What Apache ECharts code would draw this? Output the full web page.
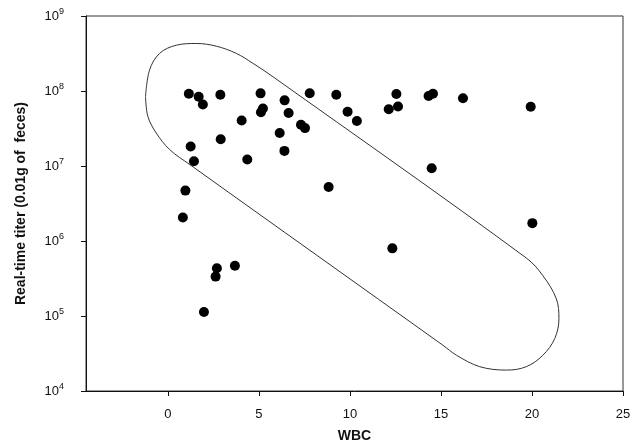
<!DOCTYPE html>
<html>
<head>
<meta charset="utf-8">
<script src="https://cdn.jsdelivr.net/npm/echarts@6/dist/echarts.min.js"></script>
<style>
html,body{margin:0;padding:0;background:#fff;}
#chart{width:644px;height:448px;}
</style>
</head>
<body>
<div id="chart"></div>
<script>
// WBC values (x) and real-time titer values (y, per 0.01 g feces)
var wbc = [1.15, 1.69, 1.92, 2.88, 4.05, 5.09, 5.22, 5.11, 6.41, 6.63, 6.14, 6.40, 7.31, 7.53,
           1.25, 1.43, 2.90, 4.36, 7.79, 9.25, 9.87, 10.38, 12.55, 12.13, 12.64, 14.32, 14.56,
           16.21, 14.49, 19.93, 0.96, 0.82, 2.69, 2.62, 3.68, 1.98, 8.83, 12.33, 20.02];
var titer = [9.2e7, 8.4e7, 6.6e7, 8.9e7, 4.05e7, 9.3e7, 5.85e7, 5.2e7, 7.5e7, 5.1e7, 2.75e7, 1.59e7, 3.55e7, 3.2e7,
             1.82e7, 1.16e7, 2.27e7, 1.22e7, 9.35e7, 8.9e7, 5.3e7, 3.98e7, 9.1e7, 5.7e7, 6.2e7, 8.6e7, 9.2e7,
             8.0e7, 9.35e6, 6.15e7, 4.7e6, 2.06e6, 4.34e5, 3.35e5, 4.69e5, 1.13e5, 5.24e6, 7.98e5, 1.73e6];

// Hand-drawn enclosing outline (x = WBC, y = titer)
var outlineX = [-1.23, -1.01, -0.46, 0.46, 1.56, 2.66, 3.76, 4.67, 5.77, 19.69, 20.60, 21.34, 21.48, 21.25,
                20.60, 19.69, 18.59, 17.13, 15.85, 15.11, 1.19, 0.09, -0.64, -1.10, -1.23];
var outlineY = [8.4e7, 1.9e8, 3.17e8, 4.08e8, 4.3e8, 3.96e8, 3.17e8, 2.34e8, 1.55e8, 5.93e5, 3.45e5, 1.69e5, 9.2e4, 5.0e4,
                3.0e4, 2.11e4, 1.9e4, 2.11e4, 3.0e4, 4.07e4, 1.05e7, 1.66e7, 2.75e7, 4.57e7, 8.4e7];

var xTicks = [0, 5, 10, 15, 20, 25];
var xMin = -4.5, xMax = 25;
var yMin = 1e4, yMax = 1e9;
var xName = 'WBC';
var yName = 'Real-time titer (0.01g of  feces)';

var points = wbc.map(function (v, i) { return [v, titer[i]]; });
var outline = outlineX.map(function (v, i) { return [v, outlineY[i]]; });

var font = 'Liberation Sans, Arial, sans-serif';
var chart = echarts.init(document.getElementById('chart'), null, {renderer: 'canvas'});
chart.setOption({
  animation: false,
  backgroundColor: '#fff',
  grid: {left: 86, right: 21, top: 16, bottom: 55, show: true, borderColor: '#333', borderWidth: 1},
  xAxis: {
    type: 'value', min: xMin, max: xMax,
    name: xName, nameLocation: 'middle', nameGap: 38,
    nameTextStyle: {fontFamily: font, fontWeight: 'bold', fontSize: 14, color: '#111'},
    axisLine: {onZero: false, lineStyle: {color: '#111', width: 1}},
    axisTick: {show: true, length: 5, lineStyle: {color: '#111'}, customValues: xTicks},
    axisLabel: {fontFamily: font, fontSize: 13, color: '#111', margin: 17, customValues: xTicks},
    splitLine: {show: false}
  },
  yAxis: {
    type: 'log', logBase: 10, min: yMin, max: yMax,
    name: yName, nameLocation: 'middle', nameGap: 58, nameRotate: 90,
    nameTextStyle: {fontFamily: font, fontWeight: 'bold', fontSize: 14, color: '#111'},
    axisLine: {show: true, onZero: false, lineStyle: {color: '#111', width: 1}},
    axisTick: {show: true, length: 5, lineStyle: {color: '#111'}},
    axisLabel: {
      margin: 22,
      formatter: function (v) {
        var e = Math.round(Math.log(v) / Math.LN10);
        return '{b|10}{s|' + e + '}';
      },
      rich: {
        b: {fontFamily: font, fontSize: 13, color: '#111'},
        s: {fontFamily: font, fontSize: 9, color: '#111', verticalAlign: 'bottom', padding: [0, 0, 8, 0]}
      }
    },
    splitLine: {show: false}
  },
  series: [
    {
      type: 'line', data: outline, smooth: 0.35, symbol: 'none', silent: true,
      lineStyle: {color: '#333', width: 1}, z: 1
    },
    {
      type: 'scatter', data: points, symbol: 'circle', symbolSize: 10,
      itemStyle: {color: '#000', opacity: 1}, z: 2
    }
  ]
});
</script>
</body>
</html>
